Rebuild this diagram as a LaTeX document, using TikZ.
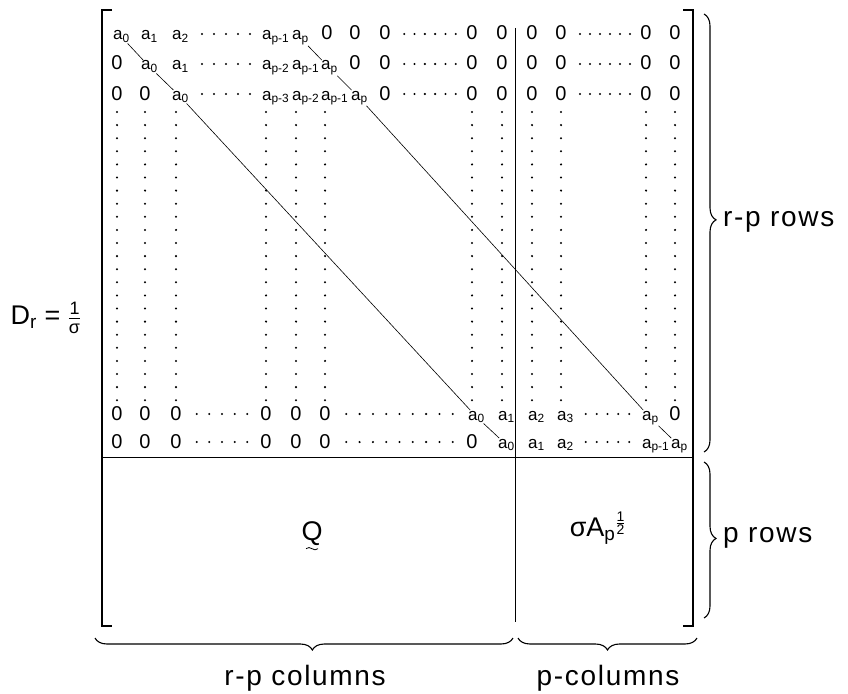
\documentclass[tikz,border=0pt]{standalone}
\usepackage{amsmath}
\usepackage{fontspec}
\setmainfont{Liberation Sans}
\newfontfamily\lblfont[LetterSpace=6]{Liberation Sans}
\usetikzlibrary{decorations.pathreplacing}
\newcommand\hdts[4]{\foreach \k in {1,...,#4}{\fill ({#2+(#3-#2)*\k/(#4+1)},#1) circle (1.15pt);}}
\newcommand\Aent[4]{\node[aent] (#1) at ({#2-4.7},#3) {a\textsubscript{#4}};}
\newcommand\Zent[3]{\node[zent] (#1) at (#2,#3) {0};}
\newcommand\fsz[2]{\mbox{\fontsize{#1}{#1}\selectfont #2}}
\begin{document}
\begin{tikzpicture}[x=1pt,y=-1pt,
  aent/.style={anchor=base west, inner sep=0.6pt, font=\fontsize{17}{17}\selectfont},
  zent/.style={anchor=base, inner sep=0.6pt, font=\fontsize{20}{20}\selectfont},
  diag/.style={line width=0.6pt},
  brk/.style={line width=1.6pt},
  divl/.style={line width=0.9pt},
  brc/.style={line width=1.1pt, decorate, decoration={brace, amplitude=12pt, aspect=#1}},
  brc/.default=0.5,
  lbl/.style={font=\lblfont\fontsize{28}{28}\selectfont, inner sep=0pt},
  big/.style={font=\fontsize{27}{30}\selectfont, inner sep=0pt},
]
\useasboundingbox (0,0) rectangle (848,693);

% frame coordinates
\coordinate (TL) at (102,10);
\coordinate (BL) at (102,626);
\coordinate (TR) at (693,10);
\coordinate (BR) at (693,626);
\coordinate (hL) at (102,457);
\coordinate (hR) at (693,457);
\coordinate (vT) at (515,28);
\coordinate (vB) at (515,622);

% brackets
\draw[brk] ([xshift=10pt]TL) -- (TL) -- (BL) -- ([xshift=10pt]BL);
\draw[brk] ([xshift=-10pt]TR) -- (TR) -- (BR) -- ([xshift=-10pt]BR);
% dividers
\draw[divl] (hL) -- (hR);
\draw[divl] (vT) -- (vB);

% row 1
\Aent{r1c1}{117}{40}{0}
\Aent{r1c2}{145}{40}{1}
\Aent{r1c3}{176}{40}{2}
\Aent{r1c4}{266}{40}{p-1}
\Aent{r1c5}{296}{40}{p}
\Zent{r1c6}{327}{40}
\Zent{r1c7}{355}{40}
\Zent{r1c8}{385}{40}
\Zent{r1c9}{472}{40}
\Zent{r1c10}{502}{40}
\Zent{r1c11}{532}{40}
\Zent{r1c12}{561}{40}
\Zent{r1c13}{646}{40}
\Zent{r1c14}{675}{40}
% row 2
\Zent{r2c1}{117}{70}
\Aent{r2c2}{145}{70}{0}
\Aent{r2c3}{176}{70}{1}
\Aent{r2c4}{266}{70}{p-2}
\Aent{r2c5}{296}{70}{p-1}
\Aent{r2c6}{325}{70}{p}
\Zent{r2c7}{355}{70}
\Zent{r2c8}{385}{70}
\Zent{r2c9}{472}{70}
\Zent{r2c10}{502}{70}
\Zent{r2c11}{532}{70}
\Zent{r2c12}{561}{70}
\Zent{r2c13}{646}{70}
\Zent{r2c14}{675}{70}
% row 3
\Zent{r3c1}{117}{100}
\Zent{r3c2}{145}{100}
\Aent{r3c3}{176}{100}{0}
\Aent{r3c4}{266}{100}{p-3}
\Aent{r3c5}{296}{100}{p-2}
\Aent{r3c6}{325}{100}{p-1}
\Aent{r3c7}{355}{100}{p}
\Zent{r3c8}{385}{100}
\Zent{r3c9}{472}{100}
\Zent{r3c10}{502}{100}
\Zent{r3c11}{532}{100}
\Zent{r3c12}{561}{100}
\Zent{r3c13}{646}{100}
\Zent{r3c14}{675}{100}
% row n-1
\Zent{rAc1}{117}{420}
\Zent{rAc2}{145}{420}
\Zent{rAc3}{176}{420}
\Zent{rAc4}{266}{420}
\Zent{rAc5}{296}{420}
\Zent{rAc6}{325}{420}
\Aent{rAc9}{472}{420}{0}
\Aent{rAc10}{502}{420}{1}
\Aent{rAc11}{532}{420}{2}
\Aent{rAc12}{561}{420}{3}
\Aent{rAc13}{646}{420}{p}
\Zent{rAc14}{675}{420}
% row n
\Zent{rBc1}{117}{448}
\Zent{rBc2}{145}{448}
\Zent{rBc3}{176}{448}
\Zent{rBc4}{266}{448}
\Zent{rBc5}{296}{448}
\Zent{rBc6}{325}{448}
\Zent{rBc9}{472}{448}
\Aent{rBc10}{502}{448}{0}
\Aent{rBc11}{532}{448}{1}
\Aent{rBc12}{561}{448}{2}
\Aent{rBc13}{646}{448}{p-1}
\Aent{rBc14}{675}{448}{p}

% horizontal dots
\foreach \yy in {34,64,94} {
  \hdts{\yy}{190}{262}{5}
  \hdts{\yy}{394}{466}{6}
  \hdts{\yy}{570}{640}{6}
}
\hdts{414}{184}{260}{5}
\hdts{414}{333}{466}{9}
\hdts{414}{575}{640}{5}
\hdts{442}{184}{260}{5}
\hdts{442}{333}{466}{9}
\hdts{442}{575}{640}{5}

% vertical dots
\foreach \xx in {117,145,176,266,296,325,472,502,532,561,646,675} {
  \foreach \i in {0,...,22} { \fill (\xx,{112+\i*13.1}) circle (1.15pt); }
}

% diagonals
\draw[diag] (r1c1) -- (r2c2);
\draw[diag] (r2c2) -- (r3c3);
\draw[diag] (r3c3) -- (rAc9);
\draw[diag] (rAc9) -- (rBc10);
\draw[diag] (r1c5) -- (r2c6);
\draw[diag] (r2c6) -- (r3c7);
\draw[diag] (r3c7) -- (rAc13);
\draw[diag] (rAc13) -- (rBc14);

% block labels
\node[big] (qlbl) at (312,534) {Q};
\draw[line width=0.8pt] ([xshift=-6pt,yshift=-2.5pt]qlbl.south) .. controls +(4pt,4pt) and +(-4pt,-4pt) .. ([xshift=6pt,yshift=-2.5pt]qlbl.south);
\node[big] (salbl) at (598,528) {$\text{σA}_{\text{p}}{}^{\frac{\fsz{14}{1}}{\fsz{14}{2}}}$};
\node[big] (drlbl) at (46,318) {D\textsubscript{r} = $\frac{\fsz{18}{1}}{\fsz{18}{σ}}$};

% braces
\coordinate (b1s) at (704,14);
\coordinate (b1e) at (704,452);
\coordinate (b2s) at (704,462);
\coordinate (b2e) at (704,618);
\coordinate (b3s) at (513,638);
\coordinate (b3e) at (95,638);
\coordinate (b4s) at (697,638);
\coordinate (b4e) at (518,638);
\draw[brc=0.47] (b1s) -- (b1e);
\draw[brc=0.49] (b2s) -- (b2e);
\draw[brc=0.48] (b3s) -- (b3e);
\draw[brc=0.5] (b4s) -- (b4e);

\node[lbl, anchor=west] (lrp) at (723,222) {r-p rows};
\node[lbl, anchor=west] (lp) at (723,538) {p rows};
\node[lbl, anchor=base] (lrpc) at (305,685) {r-p columns};
\node[lbl, anchor=base] (lpc) at (608,685) {p-columns};
\end{tikzpicture}
\end{document}
